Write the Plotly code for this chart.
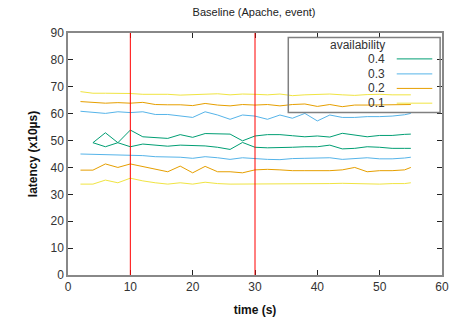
import plotly.graph_objects as go

# ---------------- data ----------------
time_s = [2, 4, 6, 8, 10, 12, 14, 16, 18, 20, 22, 24, 26, 28, 30, 32, 34, 36, 38, 40,
          42, 44, 46, 48, 50, 52, 54, 55]

avail_04_hi = [None, 49.2, 52.9, 49.2, 53.9, 51.4, 51.2, 50.8, 52.2, 51.2, 52.6, 52.5, 52.4, 49.9,
               51.7, 52.2, 52.2, 51.8, 51.4, 51.7, 51.3, 52.7, 52.1, 51.4, 51.9, 51.9, 52.3, 52.4]
avail_04_lo = [None, 49.2, 47.7, 49.2, 47.7, 48.7, 48.3, 47.9, 48.3, 48.1, 48.0, 47.5, 46.7, 49.3,
               47.5, 47.3, 47.3, 47.5, 47.7, 47.7, 48.3, 46.9, 47.1, 47.7, 47.5, 47.1, 47.1, 47.1]
avail_03_hi = [60.9, 60.5, 60.1, 60.7, 60.4, 60.7, 59.7, 59.7, 59.1, 58.6, 60.7, 59.5, 57.9, 59.5,
               59.1, 57.9, 59.5, 58.3, 60.1, 57.3, 59.5, 58.6, 58.6, 58.9, 58.9, 59.1, 59.6, 60.1]
avail_03_lo = [45.0, 44.9, 44.8, 44.6, 44.6, 44.4, 44.0, 44.0, 43.8, 43.4, 44.0, 43.6, 43.0, 43.6,
               43.2, 43.0, 42.9, 43.3, 43.4, 43.4, 43.6, 43.0, 43.3, 43.6, 43.2, 43.2, 43.5, 43.8]
avail_02_hi = [64.5, 64.2, 63.9, 64.1, 63.9, 64.2, 63.4, 63.3, 63.3, 63.0, 63.8, 63.2, 62.9, 63.4,
               63.2, 63.4, 62.9, 63.4, 63.6, 62.7, 63.4, 62.6, 63.2, 63.2, 63.2, 63.2, 63.4, 63.4]
avail_02_lo = [39.0, 39.0, 41.3, 40.0, 41.3, 40.3, 39.5, 38.4, 40.5, 38.0, 40.4, 38.4, 38.4, 38.0,
               39.1, 39.3, 39.1, 38.8, 38.8, 38.8, 38.8, 39.1, 40.0, 38.4, 38.8, 38.8, 39.1, 40.0]
avail_01_hi = [68.2, 67.6, 67.6, 67.6, 67.5, 67.2, 67.2, 67.2, 66.9, 67.0, 67.2, 67.4, 67.0, 67.3,
               67.2, 67.0, 67.3, 66.7, 67.0, 67.2, 67.3, 67.0, 66.8, 67.1, 67.2, 67.0, 67.0, 67.0]
avail_01_lo = [33.8, 33.8, 35.3, 34.3, 36.0, 35.0, 34.3, 33.8, 34.3, 33.8, 34.5, 34.0, 33.8, 33.8,
               33.8, 33.8, 33.9, 34.0, 33.8, 33.8, 34.0, 34.1, 34.0, 33.8, 33.8, 34.0, 34.0, 34.3]

legend_labels = ["0.4", "0.3", "0.2", "0.1"]
series_colors = ["#009e73", "#56b4e9", "#e69f00", "#f0e442"]
event_times = [10, 30]

x_ticks = [0, 10, 20, 30, 40, 50, 60]
y_ticks = [0, 10, 20, 30, 40, 50, 60, 70, 80, 90]

# ---------------- figure ----------------
fig = go.Figure()

pairs = [(avail_04_hi, avail_04_lo), (avail_03_hi, avail_03_lo),
         (avail_02_hi, avail_02_lo), (avail_01_hi, avail_01_lo)]

for (hi, lo), col, lab in zip(pairs, series_colors, legend_labels):
    for ys in (hi, lo):
        fig.add_trace(go.Scatter(x=time_s, y=ys, mode="lines", name=lab,
                                 line=dict(color=col, width=1), showlegend=False,
                                 connectgaps=False, hoverinfo="skip"))

for t in event_times:
    fig.add_shape(type="line", xref="x", yref="paper", x0=t, x1=t, y0=0, y1=1,
                  line=dict(color="#ff0000", width=1))

# gnuplot-style legend: label right-aligned, sample line to its right
fig.add_shape(type="rect", xref="paper", yref="paper", x0=0.589, x1=0.995, y0=0.672, y1=0.981,
              line=dict(color="#808080", width=1.5), fillcolor="rgba(0,0,0,0)")
fig.add_annotation(xref="paper", yref="paper", x=0.773, y=0.950, text="availability",
                   xanchor="center", yanchor="middle",
                   showarrow=False, font=dict(size=12, color="#333333"))
legend_y = [0.893, 0.831, 0.771, 0.710]
for lab, col, ly in zip(legend_labels, series_colors, legend_y):
    fig.add_annotation(xref="paper", yref="paper", x=0.852, y=ly, text=lab,
                       xanchor="right", yanchor="middle",
                       showarrow=False, font=dict(size=12, color="#333333"))
    fig.add_shape(type="line", xref="paper", yref="paper", x0=0.879, x1=0.974, y0=ly, y1=ly,
                  line=dict(color=col, width=1))

axis_common = dict(
    showgrid=False, zeroline=False, showline=True, linecolor="#888888", linewidth=1.5,
    mirror="ticks", ticks="inside", ticklen=5, tickcolor="#222222", tickwidth=1,
    tickfont=dict(size=12, color="#333333"), automargin=False,
)

fig.update_xaxes(range=[0, 60], tickvals=x_ticks,
                 title=dict(text="<b>time (s)</b>", font=dict(size=12, color="#111111"), standoff=12),
                 **axis_common)
fig.update_yaxes(range=[0, 90], tickvals=y_ticks,
                 title=dict(text="<b>latency (x10µs)</b>", font=dict(size=12, color="#111111"), standoff=10),
                 **axis_common)

fig.update_layout(
    width=452, height=326, autosize=False,
    margin=dict(l=68, r=10, t=33, b=51, autoexpand=False),
    paper_bgcolor="white", plot_bgcolor="white",
    font=dict(family="Liberation Sans, Arial, sans-serif", size=12, color="#333333"),
    title=dict(text="Baseline (Apache, event)", x=0.562, xanchor="center", y=0.963, yanchor="middle",
               font=dict(size=11, color="#222222")),
    showlegend=False,
)

fig.write_html("out.html",
               config={"displayModeBar": False, "responsive": False},
               post_script="document.body.style.margin='0px';document.body.style.overflow='hidden';")
